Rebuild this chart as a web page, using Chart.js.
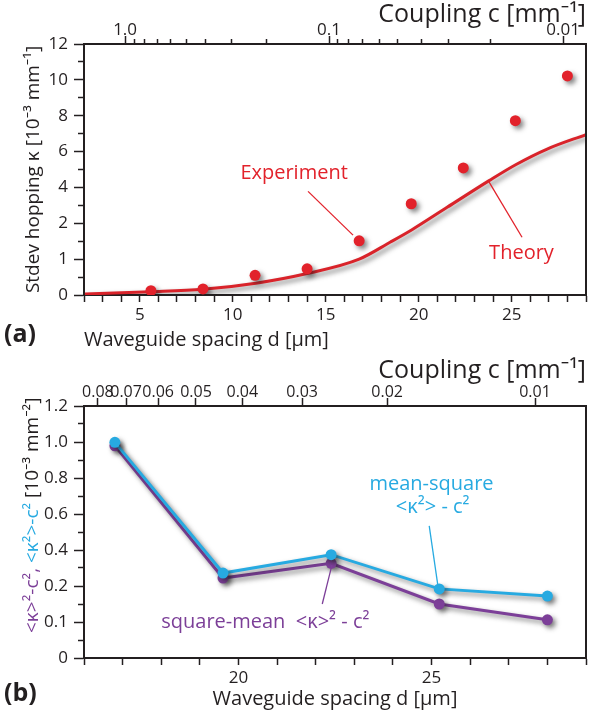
<!DOCTYPE html>
<html>
<head>
<meta charset="utf-8">
<script src="https://cdn.jsdelivr.net/npm/chart.js@4.4.1/dist/chart.umd.min.js"></script>
<style>
  html, body { margin: 0; padding: 0; background: #fff; }
  #wrap { position: relative; width: 600px; height: 711px; }
  canvas { position: absolute; left: 0; }
  #chartA { top: 0; }
  #chartB { top: 352px; }
</style>
</head>
<body>
<div id="wrap">
  <canvas id="chartA" width="600" height="352"></canvas>
  <canvas id="chartB" width="600" height="359"></canvas>
</div>
<script>
// ---- panel (a) ----
// waveguide spacing d [um] of the measured lattices
const spacingA = [5.6, 8.4, 11.2, 14.0, 16.8, 19.6, 22.4, 25.2, 28.0];
// stdev hopping kappa [1e-3 mm^-1]
const kappaExp = [0.12, 0.17, 0.55, 0.73, 1.51, 3.09, 5.09, 7.72, 10.22];
// theory curve
const theoryD = [2.05, 5.6, 8.4, 11.24, 14.0, 16.8, 18.46, 19.64, 21.53, 23.79, 25.24, 26.91, 29.0];
const theoryK = [0.03, 0.09, 0.16, 0.33, 0.6, 1.0, 1.47, 1.82, 2.89, 4.38, 5.28, 6.14, 6.95];
const yStopsA = [0, 1, 2, 4, 6, 8, 10, 12];
// coupling c [mm^-1] ticks and where they fall on the d axis
const couplingAD = [4.21, 4.69, 5.28, 5.93, 6.63, 7.49, 8.51, 9.96, 11.84, 15.18, 15.66, 16.25, 17.0, 17.87, 18.84, 20.13, 21.58, 23.84, 27.77];
const couplingALabels = ['1.0', '', '', '', '', '', '', '', '', '0.1', '', '', '', '', '', '', '', '', '0.01'];

// ---- panel (b) ----
const spacingB = [16.8, 19.6, 22.4, 25.2, 28.0];
const meanSquare = [0.998, 0.272, 0.374, 0.192, 0.172];
const squareMean = [0.979, 0.244, 0.326, 0.150, 0.106];
const yStopsB = [0, 0.1, 0.2, 0.4, 0.6, 0.8, 1.0, 1.2];
const couplingBD = [16.36, 17.09, 17.92, 18.9, 20.1, 21.65, 23.85, 27.68];
const couplingBLabels = ['0.08', '0.07', '0.06', '0.05', '0.04', '0.03', '0.02', '0.01'];

const INK = '#231f20';
const RED = '#e2222b';
const CYAN = '#27aae1';
const PURPLE = '#7c3f98';
const FONT = "'Open Sans', 'Noto Sans', sans-serif";

Chart.defaults.font.family = FONT;
Chart.defaults.color = INK;

// y axis that is stretched between its listed stops (equal spacing per stop)
class StopsScale extends Chart.LinearScale {
  toIndex(v) {
    const s = this.options.stops;
    if (v <= s[0]) return 0;
    for (let i = 0; i < s.length - 1; i++) {
      if (v <= s[i + 1]) return i + (v - s[i]) / (s[i + 1] - s[i]);
    }
    return s.length - 1;
  }
  getPixelForValue(v) {
    return this.getPixelForDecimal(this.toIndex(v) / (this.options.stops.length - 1));
  }
  getValueForPixel(p) {
    const s = this.options.stops;
    const t = this.getDecimalForPixel(p) * (s.length - 1);
    const i = Math.min(Math.floor(t), s.length - 2);
    return s[i] + (t - i) * (s[i + 1] - s[i]);
  }
  buildTicks() {
    const s = this.options.stops;
    const ticks = [];
    for (let i = 0; i < s.length; i++) {
      ticks.push({ value: s[i], major: true });
      if (i < s.length - 1) ticks.push({ value: (s[i] + s[i + 1]) / 2, major: false });
    }
    return ticks;
  }
}
StopsScale.id = 'stops';
StopsScale.defaults = {};
Chart.register(StopsScale);

const shadow = {
  id: 'shadow',
  beforeDatasetDraw(chart) {
    const ctx = chart.ctx;
    ctx.save();
    ctx.shadowColor = 'rgba(30,30,30,0.55)';
    ctx.shadowBlur = 5;
    ctx.shadowOffsetX = 3;
    ctx.shadowOffsetY = 3;
  },
  afterDatasetDraw(chart) {
    chart.ctx.restore();
  }
};

// right frame edge, panel letter, leader lines and labels
const notes = {
  id: 'notes',
  afterDraw(chart, args, opts) {
    const ctx = chart.ctx;
    const a = chart.chartArea;
    const x = chart.scales.x, y = chart.scales.y;
    ctx.save();
    ctx.strokeStyle = INK;
    ctx.lineWidth = 2;
    ctx.beginPath();
    ctx.moveTo(a.right, a.top - 1);
    ctx.lineTo(a.right, a.bottom + 1);
    ctx.stroke();

    ctx.fillStyle = INK;
    ctx.font = 'bold 25px ' + FONT;
    ctx.textBaseline = 'middle';
    ctx.textAlign = 'left';
    ctx.fillText(opts.letter, 4, chart.height - 17);

    for (const n of opts.items || []) {
      if (n.line) {
        ctx.strokeStyle = n.color;
        ctx.lineWidth = 1.3;
        ctx.beginPath();
        ctx.moveTo(x.getPixelForValue(n.line[0]), y.getPixelForValue(n.line[1]));
        ctx.lineTo(x.getPixelForValue(n.line[2]), y.getPixelForValue(n.line[3]));
        ctx.stroke();
      } else {
        ctx.fillStyle = n.color;
        ctx.font = '20px ' + FONT;
        ctx.textAlign = n.align || 'center';
        ctx.fillText(n.text, x.getPixelForValue(n.d), y.getPixelForValue(n.v));
      }
    }

    if (opts.yTitle) {
      ctx.translate(33, opts.yTitleStart);
      ctx.rotate(-Math.PI / 2);
      ctx.font = '19px ' + FONT;
      ctx.textAlign = 'left';
      let off = 0;
      for (const [t, c] of opts.yTitle) {
        ctx.fillStyle = c;
        ctx.fillText(t, off, 0);
        off += ctx.measureText(t).width;
      }
    }
    ctx.restore();
  }
};

const labelA = (v) => String(v);
const labelB = (v) => (v === 0 ? '0' : v.toFixed(1));

function axisBase() {
  return {
    border: { color: INK, width: 2 },
    grid: { drawOnChartArea: false, drawTicks: true, tickLength: 7, tickColor: INK, tickWidth: 1.5 },
    ticks: { color: INK, font: { size: 17 }, autoSkip: false, maxRotation: 0, padding: 3 }
  };
}

function yAxis(stops, titleText, fmt) {
  const ax = axisBase();
  ax.type = 'stops';
  ax.stops = stops;
  ax.min = stops[0];
  ax.max = stops[stops.length - 1];
  ax.grid.tickLength = 10;
  ax.grid.tickBorderDash = (c) => (c.tick && c.tick.major === false ? [6, 40] : []);
  ax.grid.tickBorderDashOffset = (c) => (c.tick && c.tick.major === false ? -4 : 0);
  ax.ticks.padding = 6;
  ax.ticks.callback = (v, i, ticks) => (ticks[i].major ? fmt(v) : '');
  ax.afterFit = (s) => { s.width = 84; };
  ax.title = titleText
    ? { display: true, text: titleText, color: INK, font: { size: 19 }, padding: { top: 22, bottom: 0 } }
    : { display: false };
  return ax;
}

function bottomAxis(min, max, every, align, height) {
  const ax = axisBase();
  ax.type = 'linear';
  ax.position = 'bottom';
  ax.min = min;
  ax.max = max;
  ax.ticks.stepSize = 1;
  ax.ticks.callback = (v) => (v % every === 0 ? String(v) : '');
  ax.afterFit = (s) => { s.height = height; };
  ax.title = { display: true, text: 'Waveguide spacing d [μm]', color: INK, align: align,
    font: { size: 20 }, padding: { top: 2, bottom: 0 } };
  return ax;
}

function topAxis(min, max, at, labels, height, titlePad, tickSize) {
  const ax = axisBase();
  ax.type = 'linear';
  ax.position = 'top';
  ax.min = min;
  ax.max = max;
  ax.grid.tickLength = 8;
  ax.grid.tickBorderDash = (c) => (c.index !== undefined && labels[c.index] === '' ? [5, 40] : []);
  ax.grid.tickBorderDashOffset = (c) => (c.index !== undefined && labels[c.index] === '' ? -3 : 0);
  ax.ticks.padding = -4;
  ax.ticks.font = { size: tickSize };
  ax.afterBuildTicks = (s) => { s.ticks = at.map((v) => ({ value: v })); };
  ax.ticks.callback = (v, i) => labels[i];
  ax.afterFit = (s) => { s.height = height; };
  ax.title = { display: true, text: 'Coupling c [mm⁻¹]', color: INK, align: 'end',
    font: { size: 25 }, padding: { top: titlePad, bottom: 0 } };
  return ax;
}

// ---- chart (a) ----
new Chart(document.getElementById('chartA'), {
  type: 'scatter',
  data: {
    datasets: [
      {
        label: 'Experiment',
        data: spacingA.map((d, i) => ({ x: d, y: kappaExp[i] })),
        backgroundColor: RED,
        borderWidth: 0,
        pointRadius: 5.5
      },
      {
        label: 'Theory',
        data: theoryD.map((d, i) => ({ x: d, y: theoryK[i] })),
        showLine: true,
        borderColor: '#d9232a',
        borderWidth: 3,
        pointRadius: 0,
        cubicInterpolationMode: 'monotone'
      }
    ]
  },
  options: {
    responsive: false,
    animation: false,
    events: [],
    layout: { padding: { left: 0, right: 14, top: 0, bottom: 0 } },
    plugins: {
      legend: { display: false },
      tooltip: { enabled: false },
      notes: {
        letter: '(a)',
        items: [
          { text: 'Experiment', d: 13.3, v: 4.78, color: RED },
          { line: [14.05, 3.78, 16.47, 1.67], color: RED },
          { text: 'Theory', d: 25.53, v: 1.17, color: RED },
          { line: [23.79, 4.3, 25.56, 1.61], color: RED }
        ]
      }
    },
    scales: {
      x: bottomAxis(2, 29, 5, 'start', 57),
      x2: topAxis(2, 29, couplingAD, couplingALabels, 44, 0, 17),
      y: yAxis(yStopsA, 'Stdev hopping κ [10⁻³ mm⁻¹]', labelA)
    }
  },
  plugins: [shadow, notes]
});

// ---- chart (b) ----
new Chart(document.getElementById('chartB'), {
  type: 'scatter',
  data: {
    datasets: [
      {
        label: 'mean-square',
        data: spacingB.map((d, i) => ({ x: d, y: meanSquare[i] })),
        showLine: true,
        borderColor: CYAN,
        backgroundColor: CYAN,
        borderWidth: 3,
        pointRadius: 5.5,
        pointBorderWidth: 0
      },
      {
        label: 'square-mean',
        data: spacingB.map((d, i) => ({ x: d, y: squareMean[i] })),
        showLine: true,
        borderColor: PURPLE,
        backgroundColor: PURPLE,
        borderWidth: 3,
        pointRadius: 5.5,
        pointBorderWidth: 0
      }
    ]
  },
  options: {
    responsive: false,
    animation: false,
    events: [],
    layout: { padding: { left: 0, right: 14, top: 0, bottom: 0 } },
    plugins: {
      legend: { display: false },
      tooltip: { enabled: false },
      notes: {
        letter: '(b)',
        yTitleStart: 281,
        yTitle: [['<κ>²-c², ', PURPLE], ['<κ²>-c²', CYAN], [' [10⁻³ mm⁻²]', INK]],
        items: [
          { text: 'mean-square', d: 25.0, v: 0.766, color: CYAN },
          { text: '<κ²> - c²', d: 25.03, v: 0.638, color: CYAN },
          { line: [24.94, 0.534, 25.17, 0.197], color: CYAN },
          { text: 'square-mean  <κ>² - c²', d: 18.0, v: 0.1, color: PURPLE, align: 'left' },
          { line: [22.17, 0.15, 22.42, 0.316], color: PURPLE }
        ]
      }
    },
    scales: {
      x: bottomAxis(16, 29, 5, 'center', 53),
      x2: topAxis(16, 29, couplingBD, couplingBLabels, 54, 4, 16),
      y: yAxis(yStopsB, '', labelB)
    }
  },
  plugins: [shadow, notes]
});
</script>
</body>
</html>
